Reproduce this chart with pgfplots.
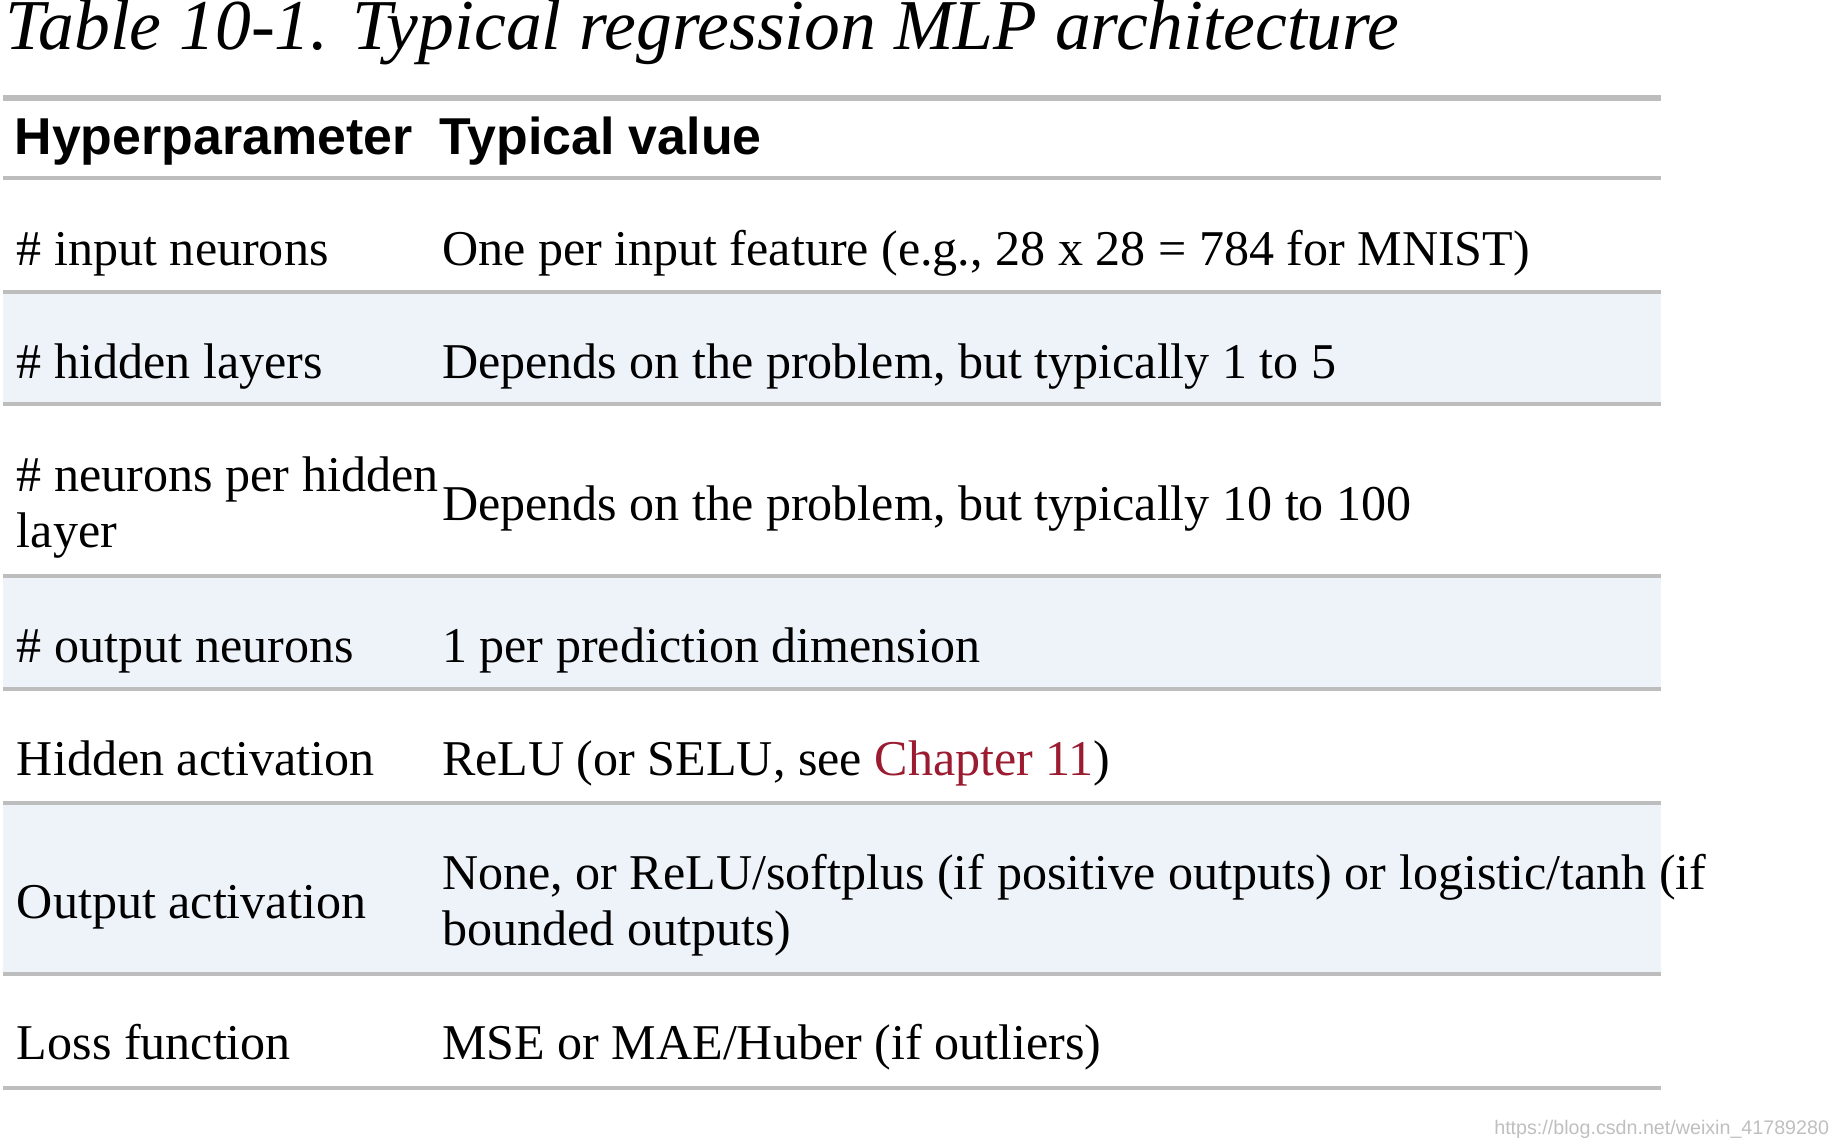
\documentclass[border=0pt]{standalone}
\usepackage{pgfplots}
\pgfplotsset{compat=1.18}
\usepackage{fontspec}
\setmainfont{Liberation Serif}
\newfontfamily\hsans{Liberation Sans}
\definecolor{rowbg}{HTML}{EEF3FA}
\definecolor{rule}{HTML}{BDBDBD}
\definecolor{chap}{HTML}{9B1B30}
\tikzset{bw/.style={anchor=base west,inner sep=0pt,outer sep=0pt}}
\begin{document}
\begin{tikzpicture}
\begin{axis}[width=18cm,height=11.367cm,scale only axis,hide axis,
  xmin=0,xmax=1560,ymin=0,ymax=985,y dir=reverse,clip=false]
\addplot[fill=rowbg,draw=none] coordinates {(58,262) (1470,262) (1470,358) (58,358)} -- cycle;
\addplot[fill=rowbg,draw=none] coordinates {(58,504) (1470,504) (1470,600) (58,600)} -- cycle;
\addplot[fill=rowbg,draw=none] coordinates {(58,697) (1470,697) (1470,843) (58,843)} -- cycle;
\addplot[rule,line width=1.6pt] coordinates {(58,97) (1470,97)};
\foreach \y in {165,262,358,504,600,697,843,940}{
  \edef\tmp{\noexpand\addplot[rule,line width=1.1pt] coordinates {(58,\y) (1470,\y)};}\tmp
}
\def\fs{\fontsize{14}{16}\selectfont}
\node[bw] at (axis cs:60,56) {\fontsize{20}{24}\selectfont\itshape Table 10-1. Typical regression MLP architecture};
\node[bw] at (axis cs:68,145) {\hsans\fontsize{14.5}{17}\selectfont\bfseries Hyperparameter};
\node[bw] at (axis cs:430,145) {\hsans\fontsize{14.5}{17}\selectfont\bfseries Typical value};
\node[bw] at (axis cs:70,240) {\fs \# input neurons};
\node[bw] at (axis cs:432,240) {\fs One per input feature (e.g., 28 x 28 = 784 for MNIST)};
\node[bw] at (axis cs:70,336) {\fs \# hidden layers};
\node[bw] at (axis cs:432,336) {\fs Depends on the problem, but typically 1 to 5};
\node[bw] at (axis cs:70,432) {\fs \# neurons per hidden};
\node[bw] at (axis cs:70,480) {\fs layer};
\node[bw] at (axis cs:432,457) {\fs Depends on the problem, but typically 10 to 100};
\node[bw] at (axis cs:70,578) {\fs \# output neurons};
\node[bw] at (axis cs:432,578) {\fs 1 per prediction dimension};
\node[bw] at (axis cs:70,674) {\fs Hidden activation};
\node[bw] at (axis cs:432,674) {\fs ReLU (or SELU, see \textcolor{chap}{Chapter 11})};
\node[bw] at (axis cs:70,796) {\fs Output activation};
\node[bw] at (axis cs:432,771) {\fs None, or ReLU/softplus (if positive outputs) or logistic/tanh (if};
\node[bw] at (axis cs:432,819) {\fs bounded outputs)};
\node[bw] at (axis cs:70,916) {\fs Loss function};
\node[bw] at (axis cs:432,916) {\fs MSE or MAE/Huber (if outliers)};
\node[bw] at (axis cs:1328,980) {\hsans\fontsize{5.5}{6}\selectfont\color{black!25}https://blog.csdn.net/weixin\_41789280};
\end{axis}
\end{tikzpicture}
\end{document}
